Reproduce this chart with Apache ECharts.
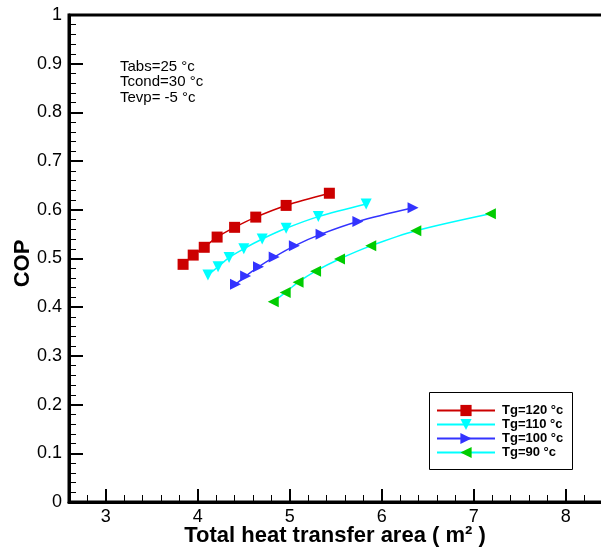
<!DOCTYPE html>
<html>
<head>
<meta charset="utf-8">
<script src="https://cdn.jsdelivr.net/npm/echarts@6/dist/echarts.min.js"></script>
<style>html,body{margin:0;padding:0;background:#fff;}#c{width:601px;height:547px;}</style>
</head>
<body>
<div id="c"></div>
<script>
// Data
const seriesNames = ['Tg=120 °c', 'Tg=110 °c', 'Tg=100 °c', 'Tg=90 °c'];
const area120 = [3.84, 3.95, 4.07, 4.21, 4.40, 4.63, 4.96, 5.43];
const cop120  = [0.488, 0.507, 0.523, 0.544, 0.564, 0.585, 0.609, 0.634];
const area110 = [4.11, 4.22, 4.34, 4.50, 4.70, 4.96, 5.31, 5.83];
const cop110  = [0.466, 0.483, 0.502, 0.520, 0.540, 0.562, 0.586, 0.612];
const area100 = [4.41, 4.52, 4.66, 4.83, 5.05, 5.34, 5.74, 6.34];
const cop100  = [0.447, 0.464, 0.483, 0.503, 0.526, 0.550, 0.576, 0.604];
const area90  = [4.82, 4.95, 5.09, 5.28, 5.54, 5.88, 6.37, 7.18];
const cop90   = [0.411, 0.430, 0.451, 0.474, 0.499, 0.526, 0.557, 0.592];
const xTickLabels = [3, 4, 5, 6, 7, 8];
const annotationLines = ['Tabs=25 °c', 'Tcond=30 °c', 'Tevp= -5 °c'];

const FONT = '"Liberation Sans", Arial, sans-serif';
const pairs = (xs, ys) => xs.map((x, i) => [x, ys[i]]);

function mkSeries(name, xs, ys, symbol, rotate, markerColor, lineColor) {
  return {
    name: name, type: 'line', xAxisIndex: 0, yAxisIndex: 0,
    data: pairs(xs, ys), smooth: 0.3,
    symbol: symbol, symbolSize: 11, symbolRotate: rotate, showAllSymbol: true,
    itemStyle: { color: markerColor },
    lineStyle: { color: lineColor, width: 1.5 },
    emphasis: { disabled: true }, animation: false
  };
}

const chart = echarts.init(document.getElementById('c'), null, { renderer: 'canvas' });
chart.setOption({
  animation: false,
  backgroundColor: '#fff',
  grid: { left: 69, top: 15, right: -20, bottom: 45, outerBoundsMode: 'none', containLabel: false,
          show: true, borderColor: '#000', borderWidth: 3, backgroundColor: 'transparent' },
  xAxis: [
    {
      type: 'value', min: 2.6, max: 8.6, position: 'bottom',
      name: 'Total heat transfer area ( m² )', nameLocation: 'middle', nameGap: 23, nameMoveOverlap: false,
      nameTextStyle: { fontFamily: FONT, fontSize: 22, fontWeight: 'bold', color: '#000', padding: [0, 20, 0, 0] },
      axisLine: { show: true, lineStyle: { color: '#000', width: 3 } },
      axisTick: { show: true, inside: true, length: 13, customValues: xTickLabels, lineStyle: { color: '#000', width: 2 } },
      axisLabel: { show: true, customValues: xTickLabels, margin: 6, fontFamily: FONT, fontSize: 18, color: '#000' },
      splitLine: { show: false }
    },
    {
      type: 'value', min: 2.6, max: 8.6, interval: 0.2, position: 'bottom',
      axisLine: { show: false },
      axisTick: { show: true, inside: true, length: 7, lineStyle: { color: '#000', width: 1 } },
      axisLabel: { show: false },
      splitLine: { show: false }
    }
  ],
  yAxis: {
    type: 'value', min: 0, max: 1, interval: 0.1,
    name: 'COP', nameLocation: 'middle', nameGap: 35, nameMoveOverlap: false,
    nameTextStyle: { fontFamily: FONT, fontSize: 22, fontWeight: 'bold', color: '#000', padding: [0, 10, 0, 0] },
    axisLine: { show: true, lineStyle: { color: '#000', width: 3 } },
    axisTick: { show: true, inside: true, length: 14, lineStyle: { color: '#000', width: 2 } },
    minorTick: { show: true, splitNumber: 5, length: 7, lineStyle: { color: '#000', width: 1 } },
    axisLabel: { margin: 7, fontFamily: FONT, fontSize: 18, color: '#000' },
    splitLine: { show: false }
  },
  legend: {
    orient: 'vertical', left: 436, top: 404, padding: 0,
    itemWidth: 58, itemHeight: 14, itemGap: 1,
    data: seriesNames,
    textStyle: { fontFamily: FONT, fontSize: 13, fontWeight: 'bold', color: '#000', padding: [0, 0, 0, 2] },
    selectedMode: false
  },
  graphic: [
    { type: 'rect', shape: { x: 429.5, y: 392.5, width: 143, height: 77 }, style: { fill: '#fff', stroke: '#000', lineWidth: 1 }, z: 3 },
    { type: 'text', left: 120, top: 59, style: { text: annotationLines.join('\n'), font: '15px ' + FONT, lineHeight: 15.5, fill: '#000' }, z: 5 }
  ],
  series: [
    mkSeries(seriesNames[0], area120, cop120, 'rect', 0, '#cc0000', '#cc0000'),
    mkSeries(seriesNames[1], area110, cop110, 'triangle', 180, '#00ffff', '#00ffff'),
    mkSeries(seriesNames[2], area100, cop100, 'triangle', -90, '#3333ff', '#3333ff'),
    mkSeries(seriesNames[3], area90, cop90, 'triangle', 90, '#00cc00', '#00ffff')
  ]
});
</script>
</body>
</html>
